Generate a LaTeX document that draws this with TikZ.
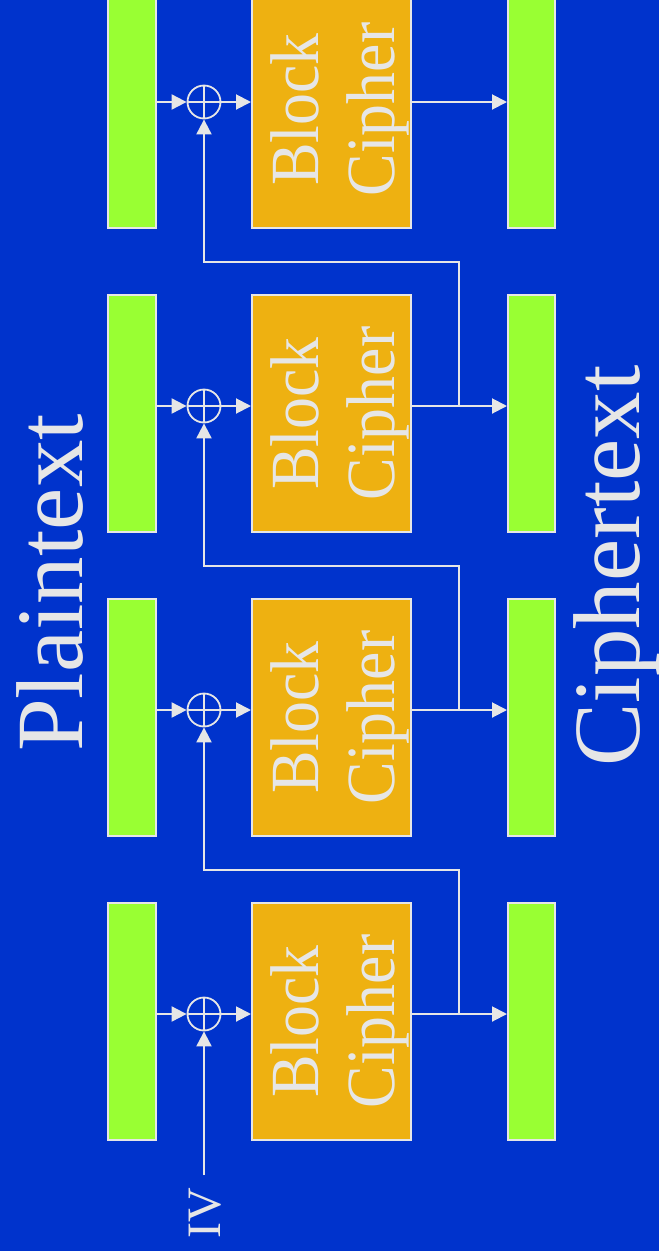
\documentclass[tikz,border=0pt]{standalone}
\usepackage{fontspec}
\setmainfont{Liberation Serif}
\usetikzlibrary{arrows.meta}
\definecolor{bg}{HTML}{0033CC}
\definecolor{barfill}{HTML}{99FF33}
\definecolor{cipherfill}{HTML}{EEB111}
\definecolor{ink}{HTML}{E6E6E6}
\newcommand{\narrow}[1]{\scalebox{0.925}[1]{#1}}
\begin{document}
\begin{tikzpicture}[x=1pt,y=-1pt,
  wire/.style={draw=ink,line width=2pt},
  flow/.style={wire,-{Triangle[length=15pt,width=15pt]}},
  databar/.style={draw=ink,line width=2pt,fill=barfill,inner sep=0pt,
    minimum height=237pt},
  ptbar/.style={databar,minimum width=48pt},
  ctbar/.style={databar,minimum width=47pt},
  cipherbox/.style={draw=ink,line width=2pt,fill=cipherfill,inner sep=0pt,
    minimum width=159pt,minimum height=237pt},
  xorgate/.style={circle,draw=ink,line width=1.8pt,minimum size=33pt,inner sep=0pt,
    path picture={\draw[ink,line width=1.6pt]
      (path picture bounding box.north) -- (path picture bounding box.south)
      (path picture bounding box.west) -- (path picture bounding box.east);}},
  lbl/.style={text=ink,rotate=90,anchor=base,inner sep=0pt},
  boxtext/.style={lbl,font=\fontsize{69}{69}\selectfont},
  bigtext/.style={lbl,font=\fontsize{95}{95}\selectfont}
]
\useasboundingbox[fill=bg] (0,0) rectangle (659,1251);

% four CBC stages, first stage at the bottom
\foreach \T [count=\i] in {902,598,294,-10} {
  \node[ptbar] (p\i) at (132,\T+119.5) {};
  \node[cipherbox] (c\i) at (331.5,\T+119.5) {};
  \node[ctbar] (q\i) at (531.5,\T+119.5) {};
  \node[xorgate] (x\i) at (204,\T+112) {};
  \node[boxtext] (b\i) at (318,\T+119.5) {\narrow{Block}};
  \node[boxtext] (k\i) at (394,\T+119.5) {\narrow{Cipher}};
  \coordinate (t\i) at (459,\T+112);
  \coordinate (u\i) at (459,\T-32);
  \draw[flow] (p\i.east |- x\i) -- (x\i.west);
  \draw[flow] (x\i.east) -- (c\i.west |- x\i);
  \draw[flow] (c\i.east |- x\i) -- (q\i.west |- x\i);
}

% chaining: each ciphertext block feeds the next XOR
\foreach \i/\j in {1/2,2/3,3/4} {
  \draw[flow] (t\i) -- (u\i) -| (x\j.south);
}

% initialisation vector
\node[lbl,font=\fontsize{48}{48}\selectfont] (iv) at (220,1213) {IV};
\coordinate (ivtop) at (204,1175);
\draw[flow] (ivtop) -- (x1.south);

\node[bigtext] (pt) at (82,583) {Plaintext};
\node[bigtext] (ct) at (639,566) {Ciphertext};
\end{tikzpicture}
\end{document}
